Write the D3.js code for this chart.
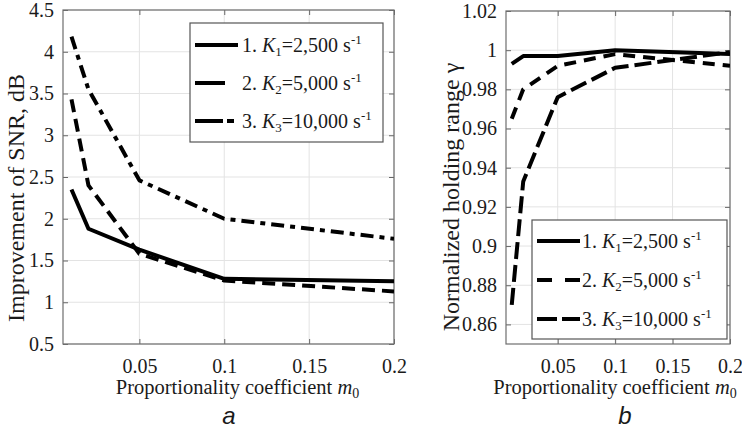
<!DOCTYPE html>
<meta charset="utf-8">
<script src="https://d3js.org/d3.v7.min.js"></script>
<style>
  body { margin: 0; background: #fff; }
</style>
<div id="my_dataviz"></div>

<script>
// data
var mVals = [0.01, 0.02, 0.05, 0.1, 0.2];
var xTicks = [0.05, 0.1, 0.15, 0.2];

var snrK1 = [2.35, 1.88, 1.63, 1.28, 1.25];
var snrK2 = [3.43, 2.40, 1.58, 1.26, 1.13];
var snrK3 = [4.18, 3.55, 2.46, 2.00, 1.76];
var snrTicks = [0.5, 1, 1.5, 2, 2.5, 3, 3.5, 4, 4.5];

var gamK1 = [0.993, 0.997, 0.997, 1.000, 0.998];
var gamK2 = [0.965, 0.980, 0.992, 0.998, 0.992];
var gamK3 = [0.870, 0.933, 0.976, 0.991, 0.999];
var gamTicks = [0.86, 0.88, 0.9, 0.92, 0.94, 0.96, 0.98, 1, 1.02];

var legendIdx = ["1", "2", "3"];
var legendVal = ["2,500", "5,000", "10,000"];

var W = 742, H = 431;
var serif = "'Liberation Serif', 'Times New Roman', serif";
var svg = d3.select("#my_dataviz")
  .append("svg")
    .attr("width", W)
    .attr("height", H)
    .attr("font-family", serif)
    .attr("fill", "#1a1a1a");

var fontSize = 20;

function drawPanel(p) {
  var x = d3.scaleLinear().domain([0.005, 0.2]).range([p.left, p.right]);
  var y = d3.scaleLinear().domain(p.yDomain).range([p.bottom, p.top]);
  var g = svg.append("g");

  var clipId = "clip" + p.name;
  svg.append("clipPath").attr("id", clipId)
    .append("rect")
      .attr("x", p.left).attr("y", p.top)
      .attr("width", p.right - p.left).attr("height", p.bottom - p.top);

  // grid
  g.selectAll(".gx").data(xTicks).enter().append("line")
    .attr("x1", d => x(d)).attr("x2", d => x(d))
    .attr("y1", p.top).attr("y2", p.bottom)
    .attr("stroke", "#e3e3e3").attr("stroke-width", 1);
  g.selectAll(".gy").data(p.yTicks).enter().append("line")
    .attr("x1", p.left).attr("x2", p.right)
    .attr("y1", d => y(d)).attr("y2", d => y(d))
    .attr("stroke", "#e3e3e3").attr("stroke-width", 1);

  // axes, ticks pointing inward
  var fmt = function(d) { return String(d); };
  g.append("g")
    .attr("transform", "translate(0," + p.bottom + ")")
    .call(d3.axisBottom(x).tickValues(xTicks).tickSize(-5).tickPadding(15).tickFormat(fmt));
  g.append("g")
    .attr("transform", "translate(" + p.left + ",0)")
    .call(d3.axisLeft(y).tickValues(p.yTicks).tickSize(-5).tickPadding(9).tickFormat(fmt));
  g.append("g")
    .attr("transform", "translate(0," + p.top + ")")
    .call(d3.axisTop(x).tickValues(xTicks).tickSize(-5).tickFormat(""));
  g.append("g")
    .attr("transform", "translate(" + p.right + ",0)")
    .call(d3.axisRight(y).tickValues(p.yTicks).tickSize(-5).tickFormat(""));
  g.selectAll(".domain").remove();
  g.selectAll(".tick line").attr("stroke", "#666");
  g.selectAll(".tick text")
    .attr("font-family", serif)
    .attr("font-size", fontSize)
    .attr("fill", "#1a1a1a");

  g.append("rect")
    .attr("x", p.left).attr("y", p.top)
    .attr("width", p.right - p.left).attr("height", p.bottom - p.top)
    .attr("fill", "none").attr("stroke", "#6e6e6e").attr("stroke-width", 1.2);

  // series
  var line = d3.line()
    .x(function(d, i) { return x(mVals[i]); })
    .y(function(d) { return y(d); });
  var lines = svg.append("g").attr("clip-path", "url(#" + clipId + ")");
  p.series.forEach(function(s) {
    lines.append("path")
      .datum(s.values)
      .attr("d", line)
      .attr("fill", "none")
      .attr("stroke", "#000")
      .attr("stroke-width", 4)
      .attr("stroke-dasharray", s.dash)
      .attr("stroke-linejoin", "round");
  });

  // legend
  var lg = svg.append("g");
  lg.append("rect")
    .attr("x", p.legend.x0).attr("y", p.legend.y0)
    .attr("width", p.legend.x1 - p.legend.x0).attr("height", p.legend.y1 - p.legend.y0)
    .attr("fill", "#fff").attr("stroke", "#555").attr("stroke-width", 1.2);
  p.series.forEach(function(s, i) {
    var yy = p.legend.rows[i];
    lg.append("line")
      .attr("x1", p.legend.sx0).attr("x2", p.legend.sx1)
      .attr("y1", yy).attr("y2", yy)
      .attr("stroke", "#000").attr("stroke-width", 4)
      .attr("stroke-dasharray", s.legendDash || s.dash);
    var t = lg.append("text")
      .attr("x", p.legend.tx).attr("y", yy + 7)
      .attr("font-size", fontSize);
    t.append("tspan").text(legendIdx[i] + ". ");
    t.append("tspan").attr("font-style", "italic").text("K");
    t.append("tspan").attr("font-size", 13).attr("dy", 4).text(legendIdx[i]);
    t.append("tspan").attr("dy", -4).text("=" + legendVal[i] + " s");
    t.append("tspan").attr("font-size", 13).attr("dy", -8).text("-1");
  });

  // axis labels
  var xl = svg.append("text")
    .attr("x", (p.left + p.right) / 2 + p.xLabelShift).attr("y", p.bottom + 50)
    .attr("text-anchor", "middle").attr("font-size", 20.5);
  xl.append("tspan").text("Proportionality coefficient ");
  xl.append("tspan").attr("font-style", "italic").text("m");
  xl.append("tspan").attr("font-size", 14).attr("dy", 4).text("0");

  svg.append("text")
    .attr("transform", "translate(" + p.yLabelX + "," + p.yLabelY + ") rotate(-90)")
    .attr("text-anchor", "middle").attr("dominant-baseline", "central")
    .attr("font-size", 24)
    .text(p.yLabel);

  svg.append("text")
    .attr("x", p.tagX).attr("y", 424)
    .attr("text-anchor", "middle")
    .attr("font-family", "'Liberation Sans', Arial, sans-serif").attr("font-style", "italic")
    .attr("font-size", 24)
    .text(p.name);
}

drawPanel({
  name: "a",
  left: 63, right: 394, top: 10, bottom: 344,
  yDomain: [0.5, 4.5], yTicks: snrTicks,
  yLabel: "Improvement of SNR, dB", yLabelX: 16, yLabelY: 198,
  tagX: 229, xLabelShift: 9,
  series: [
    {values: snrK1, dash: null},
    {values: snrK2, dash: "13,7", legendDash: "30,50"},
    {values: snrK3, dash: "13,6,5,6", legendDash: "28,4,7,6"}
  ],
  legend: {x0: 190, x1: 383, y0: 23, y1: 142, rows: [45, 83, 121], sx0: 195, sx1: 238, tx: 242}
});

drawPanel({
  name: "b",
  left: 506, right: 730, top: 11, bottom: 344,
  yDomain: [0.85, 1.02], yTicks: gamTicks,
  yLabel: "Normalized holding range \u03b3", yLabelX: 451, yLabelY: 197,
  tagX: 625, xLabelShift: -3,
  series: [
    {values: gamK1, dash: null},
    {values: gamK2, dash: "12,8", legendDash: "15,13,15"},
    {values: gamK3, dash: "17,6", legendDash: "20,5,20"}
  ],
  legend: {x0: 532, x1: 727, y0: 220, y1: 339, rows: [241, 280, 319], sx0: 537, sx1: 580, tx: 582}
});
</script>
